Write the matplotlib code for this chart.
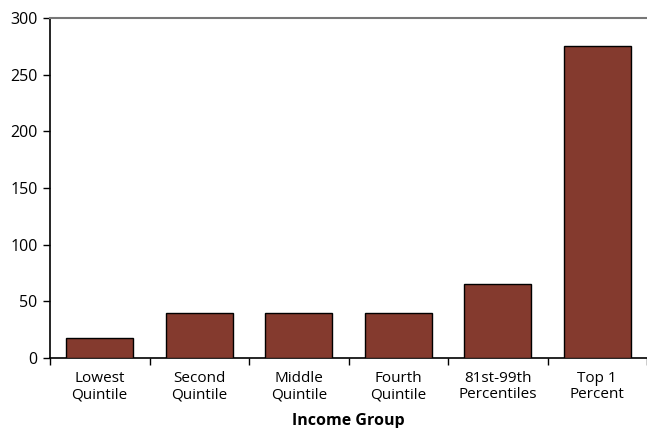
import matplotlib.pyplot as plt
import numpy as np

categories = ["Lowest\nQuintile", "Second\nQuintile", "Middle\nQuintile",
              "Fourth\nQuintile", "81st-99th\nPercentiles", "Top 1\nPercent"]
values = [18, 40, 40, 40, 65, 275]
y_ticks = [0, 50, 100, 150, 200, 250, 300]

plt.rcParams["font.family"] = ["Open Sans", "DejaVu Sans"]

fig = plt.figure(figsize=(6.47, 4.28), dpi=100)
ax = fig.add_axes([50 / 647, 70 / 428, 597 / 647, 340 / 428])

x = np.arange(len(categories))
ax.bar(x, values, width=0.67, color="#843A2E", edgecolor="black", linewidth=1.0, zorder=3)

ax.set_xlim(-0.5, len(categories) - 0.5)
ax.set_ylim(0, 300)
ax.set_yticks(y_ticks)
ax.tick_params(axis="y", labelsize=11.5, length=5, width=1, pad=4, colors="black")

# boundary ticks as majors, category labels as minors
ax.set_xticks(np.arange(len(categories) + 1) - 0.5)
ax.set_xticklabels([])
ax.set_xticks(x, minor=True)
ax.set_xticklabels(categories, minor=True, fontsize=11, linespacing=1.15)
ax.tick_params(axis="x", which="major", length=5, width=1)
ax.tick_params(axis="x", which="minor", length=0, pad=9)

ax.set_xlabel("Income Group", fontsize=11.5, fontweight="bold", labelpad=8)

ax.spines["right"].set_visible(False)
ax.spines["top"].set_color("#777777")
ax.spines["top"].set_linewidth(1.5)
ax.spines["left"].set_linewidth(1.2)
ax.spines["bottom"].set_linewidth(1.2)

fig.savefig("out.png", dpi=100)
plt.close(fig)
